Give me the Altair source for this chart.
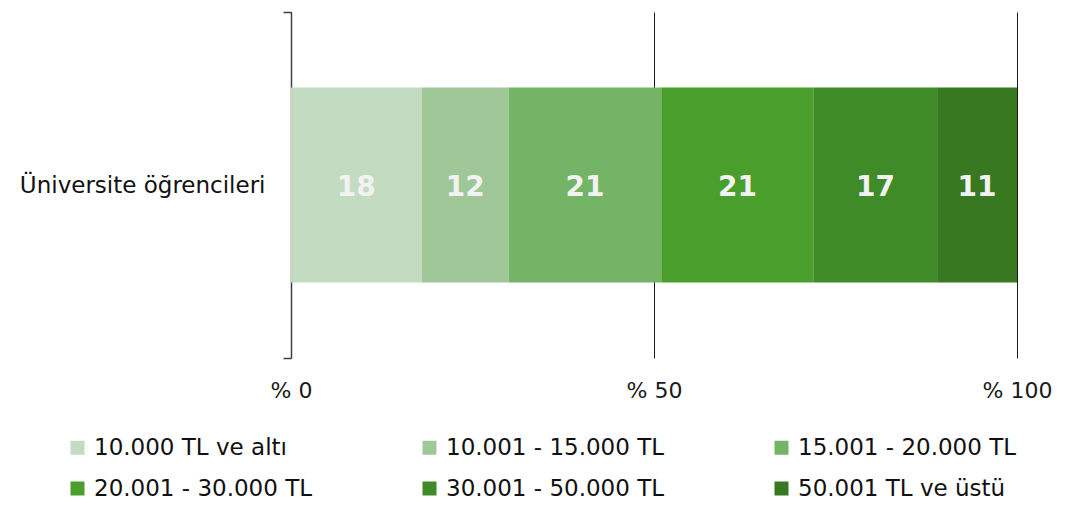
import altair as alt
import pandas as pd

group = "Üniversite öğrencileri"
categories = ["10.000 TL ve altı", "10.001 - 15.000 TL", "15.001 - 20.000 TL",
              "20.001 - 30.000 TL", "30.001 - 50.000 TL", "50.001 TL ve üstü"]
values = [18, 12, 21, 21, 17, 11]
colors = ["#c3dbc0", "#9fc797", "#74b466", "#4a9e2c", "#3f8b28", "#377820"]
x_ticks = [0, 50, 100]

df = pd.DataFrame({
    "group": [group] * len(categories),
    "cat": categories,
    "value": values,
    "order": list(range(len(categories))),
})

FONT = "DejaVu Sans"

base = alt.Chart(df)

bars = base.mark_bar(size=195).encode(
    x=alt.X("value:Q", stack="zero",
            scale=alt.Scale(domain=[0, 100], nice=False, zero=True),
            axis=alt.Axis(values=x_ticks, labelExpr="'% ' + datum.value",
                          grid=True, gridColor="#1a1a1a", gridWidth=1,
                          domain=False, ticks=False, title=None,
                          labelFlush=False, labelOverlap=False,
                          labelFont=FONT, labelFontSize=22, labelColor="#1a1a1a",
                          labelPadding=22)),
    y=alt.Y("group:N", title=None,
            scale=alt.Scale(paddingInner=0, paddingOuter=0),
            axis=alt.Axis(domain=True, domainColor="#404040", domainWidth=1.5,
                          grid=False,
                          ticks=True, tickBand="extent", tickSize=8, tickColor="#404040",
                          tickWidth=1.5, labelFont=FONT, labelFontSize=23,
                          labelLimit=400,
                          labelColor="#111111", labelPadding=18)),
    color=alt.Color("cat:N", sort=categories,
                    scale=alt.Scale(domain=categories, range=colors),
                    legend=alt.Legend(title=None, orient="none", direction="horizontal",
                                      columns=3, legendX=-225, legendY=424,
                                      symbolType="square", symbolSize=196,
                                      symbolStrokeWidth=0, symbolOpacity=1,
                                      labelFont=FONT, labelFontSize=23,
                                      labelColor="#111111", labelOffset=5,
                                      columnPadding=105, rowPadding=17,
                                      labelLimit=400)),
    order=alt.Order("order:Q"),
)

labels = base.transform_window(
    cum="sum(value)", sort=[alt.SortField("order")], frame=[None, 0]
).transform_calculate(
    mid="datum.cum - datum.value / 2"
).mark_text(font=FONT, fontSize=28, fontWeight="bold", color="#f2f2f2",
            baseline="middle", dy=3).encode(
    x=alt.X("mid:Q"),
    y=alt.Y("group:N"),
    text=alt.Text("value:Q"),
)

chart = (bars + labels).properties(
    width=726, height=346,
    background="white",
    autosize=alt.AutoSizeParams(type="none"),
    padding={"left": 283, "top": 4, "right": 56, "bottom": 141},
).configure_view(stroke="transparent", strokeWidth=0)

chart.save("out.html", embed_options={"renderer": "svg", "actions": False})
